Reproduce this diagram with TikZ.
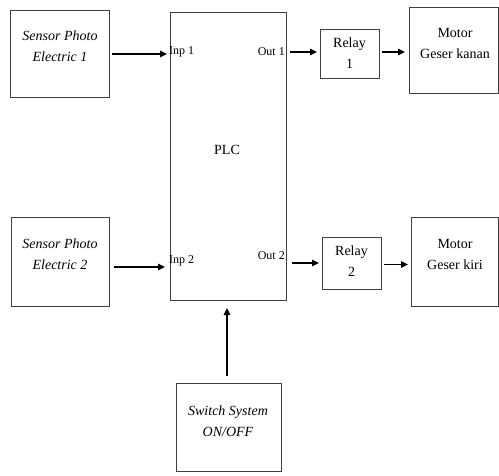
\documentclass[tikz,border=0pt]{standalone}
\usepackage{fontspec}
\setmainfont{Liberation Serif}
\usetikzlibrary{arrows.meta}
\begin{document}
\begin{tikzpicture}[x=1pt,y=-1pt,
  box/.style={draw=black!75,line width=0.9pt,inner sep=0pt,outer sep=0pt},
  txt/.style={align=center,font=\fontsize{14}{21}\selectfont,inner sep=0pt},
  port/.style={font=\fontsize{12}{14}\selectfont,inner sep=0pt},
  arr/.style={line width=1.4pt,-{Triangle[length=7pt,width=6.5pt]}}]
\useasboundingbox (0,0) rectangle (499,475);
% boxes
\node[box,minimum width=99pt,minimum height=87pt] (s1) at (59.5,54) {};
\node[box,minimum width=116pt,minimum height=288pt] (plc) at (228,156) {};
\node[box,minimum width=59pt,minimum height=49pt] (r1) at (349.5,53.5) {};
\node[box,minimum width=89pt,minimum height=86pt] (m1) at (453.5,50) {};
\node[box,minimum width=98pt,minimum height=89pt] (s2) at (60,261.5) {};
\node[box,minimum width=59pt,minimum height=52pt] (r2) at (351.5,263) {};
\node[box,minimum width=87pt,minimum height=89pt] (m2) at (454.5,261.5) {};
\node[box,minimum width=105pt,minimum height=88pt] (sw) at (228.5,427) {};
% texts
\node[txt] (t1) at (60,46.5) {\itshape Sensor Photo\\\itshape Electric 1};
\node[txt] (t2) at (60,254.5) {\itshape Sensor Photo\\\itshape Electric 2};
\node[txt] (tp) at (227,150) {PLC};
\node[txt] (tr1) at (349.5,53.5) {Relay\\1};
\node[txt] (tr2) at (351.5,261.5) {Relay\\2};
\node[txt] (tm1) at (455,43.5) {Motor\\Geser kanan};
\node[txt] (tm2) at (455,254.5) {Motor\\Geser kiri};
\node[txt] (tsw) at (228,421.5) {\itshape Switch System\\\itshape ON/OFF};
\node[port,anchor=west] (i1) at (169,52) {Inp 1};
\node[port,anchor=east] (o1) at (285,52) {Out 1};
\node[port,anchor=west] (i2) at (169,261) {Inp 2};
\node[port,anchor=east] (o2) at (285,256) {Out 2};
% connectors
\draw[arr,shorten <=3pt,shorten >=3pt] (s1.east) -- (s1.east -| plc.west);
\draw[arr,shorten <=5pt,shorten >=5pt] ([yshift=-5.5pt]s2.east) -- ([yshift=-5.5pt]s2.east -| plc.west);
\draw[arr,shorten <=4pt,shorten >=3pt] (plc.east |- o1) -- (r1.west |- o1);
\draw[arr,shorten <=3pt,shorten >=4pt] (r1.east |- o1) -- (m1.west |- o1);
\draw[arr,shorten <=6pt,shorten >=3pt] (plc.east |- r2.west) -- (r2.west);
\draw[arr,shorten <=3pt,shorten >=3pt] ([yshift=-1.5pt]r2.east) -- ([yshift=-1.5pt]r2.east -| m2.west);
\draw[arr,shorten <=7pt,shorten >=8pt] ([xshift=-1.5pt]sw.north) -- ([xshift=-1.5pt]sw.north |- plc.south);
\end{tikzpicture}
\end{document}
